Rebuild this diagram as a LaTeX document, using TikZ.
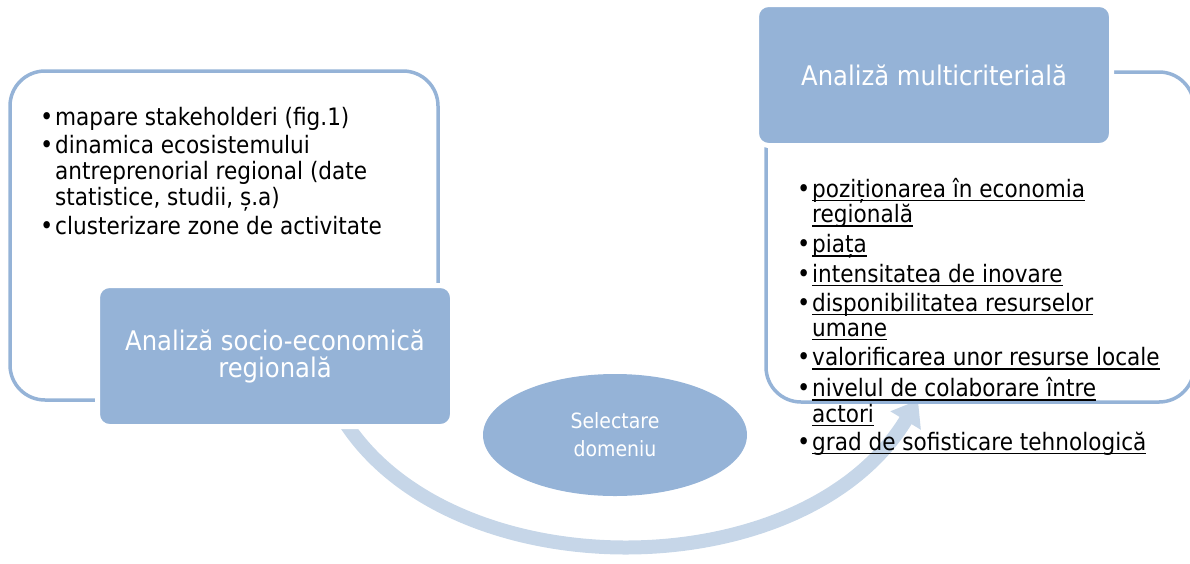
\documentclass[tikz,border=0pt]{standalone}
\usepackage{fontspec}
\setmainfont{DejaVu Sans}[FakeStretch=0.9]
\usetikzlibrary{arrows.meta,shapes.geometric}
\definecolor{boxblue}{HTML}{95B3D7}
\definecolor{arrowblue}{HTML}{C6D6E8}
\newcommand\bul{\makebox[10pt][l]{\fontsize{25}{20}\selectfont\hspace{-5pt}•}}
\newcommand\myul[1]{\setbox0\hbox{#1}\rlap{\rule[-4pt]{\wd0}{1.4pt}}\box0}
\begin{document}
\begin{tikzpicture}[x=1pt,y=-1pt,
  framebox/.style={draw=boxblue, line width=3.5pt, rounded corners=35pt},
  filledbox/.style={fill=boxblue, draw=white, line width=5pt, rounded corners=12pt,
    minimum width=355pt, minimum height=141pt, text=white, align=center,
    font=\fontsize{27}{27}\selectfont},
  listtext/.style={font=\fontsize{24}{25}\selectfont, inner sep=0pt, anchor=base west},
  flowarrow/.style={draw=arrowblue, line width=14pt, -{Triangle[width=34pt,length=24pt]}}]
\useasboundingbox (0,0) rectangle (1190,563);
\clip (0,0) rectangle (1190,563);
% curved arrow
\coordinate (arrstart) at (335,405);
\coordinate (arrend) at (918,400);
\draw[flowarrow] (arrstart) .. controls (430,590) and (800,595) .. (arrend);
% frames
\draw[framebox] (10,71) rectangle (438,400);
\draw[framebox] (766,72) rectangle (1194,402);
% filled boxes
\node[filledbox] (soc) at (275,356) {Analiză socio-economică\\regională};
\node[filledbox] (multi) at (934,75) {Analiză multicriterială};
% ellipse
\node[ellipse, fill=boxblue, minimum width=264pt, minimum height=122pt, text=white,
  align=center, font=\fontsize{21}{28}\selectfont] (sel) at (615,435) {Selectare\\domeniu};
% left list
\node[listtext] (leftlist) at (45,125) {\begin{tabular}[t]{@{}l@{}l@{}}
\bul & mapare stakeholderi (fig.1)\\[3pt]
\bul & dinamica ecosistemului\\
 & antreprenorial regional (date\\
 & statistice, studii, ș.a)\\[4pt]
\bul & clusterizare zone de activitate
\end{tabular}};
% right list
\node[listtext] (rightlist) at (802,197) {\begin{tabular}[t]{@{}l@{}l@{}}
\bul & \myul{poziționarea în economia}\\
 & \myul{regională}\\[4pt]
\bul & \myul{piața}\\[4pt]
\bul & \myul{intensitatea de inovare}\\[3pt]
\bul & \myul{disponibilitatea resurselor}\\
 & \myul{umane}\\[4pt]
\bul & \myul{valorificarea unor resurse locale}\\[4pt]
\bul & \myul{nivelul de colaborare între}\\
 & \myul{actori}\\[2pt]
\bul & \myul{grad de sofisticare tehnologică}
\end{tabular}};
\end{tikzpicture}
\end{document}
